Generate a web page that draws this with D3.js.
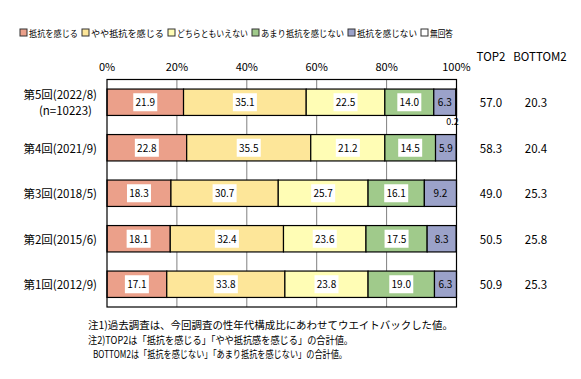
<!DOCTYPE html>
<html><head><meta charset="utf-8">
<script src="https://cdn.jsdelivr.net/npm/d3@7"></script>
<style>
body{margin:0;background:#fff;}
text{font-family:"Noto Sans CJK JP","Noto Sans",sans-serif;}
</style></head>
<body><svg id="c" width="581" height="379"></svg>
<script>
const categories = ["第5回(2022/8)","第4回(2021/9)","第3回(2018/5)","第2回(2015/6)","第1回(2012/9)"];
const subLabels = ["(n=10223)","","","",""];
const seriesNames = ["抵抗を感じる","やや抵抗を感じる","どちらともいえない","あまり抵抗を感じない","抵抗を感じない","無回答"];
const s1 = [21.9,22.8,18.3,18.1,17.1];
const s2 = [35.1,35.5,30.7,32.4,33.8];
const s3 = [22.5,21.2,25.7,23.6,23.8];
const s4 = [14.0,14.5,16.1,17.5,19.0];
const s5 = [6.3,5.9,9.2,8.3,6.3];
const s6 = [0.2,0,0,0,0];
const top2 = ["57.0","58.3","49.0","50.5","50.9"];
const bottom2 = ["20.3","20.4","25.3","25.8","25.3"];
const ticks = [0,20,40,60,80,100];
const notes = ["注1)過去調査は、今回調査の性年代構成比にあわせてウエイトバックした値。",
               "注2)TOP2は「抵抗を感じる」「やや抵抗感を感じる」の合計値。",
               "BOTTOM2は「抵抗を感じない」「あまり抵抗を感じない」の合計値。"];
const colors = ["#EBA08A","#FDE699","#FFFDB5","#A0CA8B","#9BA2C9","#FFFFFF"];

const series = [s1,s2,s3,s4,s5,s6];
const svg = d3.select("#c");
const x = d3.scaleLinear().domain([0,100]).range([107,456.5]);
const y = d3.scaleBand().domain(categories).range([79.5,307]).paddingInner(0.42).paddingOuter(0.21);

// gridlines
svg.append("g").selectAll("line").data(ticks.filter(t=>t>0&&t<100)).join("line")
  .attr("x1",d=>x(d)).attr("x2",d=>x(d)).attr("y1",79.5).attr("y2",307)
  .attr("stroke","#808080").attr("stroke-width",1);

// tick labels
svg.append("g").selectAll("text").data(ticks).join("text")
  .attr("x",d=>x(d)).attr("y",71).attr("text-anchor","middle")
  .attr("font-size",11).text(d=>d+"%");

// bars
categories.forEach((c,i)=>{
  let cum=0;
  series.forEach((s,k)=>{
    const v=s[i];
    const x0=x(cum), x1=x(cum+v);
    cum+=v;
    if(v<=0) return;
    svg.append("rect").attr("x",x0).attr("y",y(c)).attr("width",x1-x0).attr("height",y.bandwidth())
      .attr("fill",colors[k]).attr("stroke","#000").attr("stroke-width",1.2);
    const cx=(x0+x1)/2, cy=y(c)+y.bandwidth()/2;
    if(k<5){
      if(v>=10){
        svg.append("rect").attr("x",cx-12).attr("y",cy-9).attr("width",24).attr("height",18).attr("fill","#fff");
      }
      svg.append("text").attr("x",cx).attr("y",cy+4).attr("text-anchor","middle")
        .attr("font-size",10).text(v.toFixed(1));
    } else {
      svg.append("text").attr("x",x1-4).attr("y",y(c)+y.bandwidth()+9.5).attr("text-anchor","middle")
        .attr("font-size",9).text(v.toFixed(1));
    }
  });
  // category labels
  const cy=y(c)+y.bandwidth()/2;
  if(subLabels[i]){
    svg.append("text").attr("x",97).attr("y",cy-3).attr("text-anchor","end").attr("font-size",11.5).text(c);
    svg.append("text").attr("x",92).attr("y",cy+13).attr("text-anchor","end").attr("font-size",11.5).text(subLabels[i]);
  } else {
    svg.append("text").attr("x",97).attr("y",cy+5).attr("text-anchor","end").attr("font-size",11.5).text(c);
  }
  svg.append("text").attr("x",491).attr("y",cy+5).attr("text-anchor","middle").attr("font-size",11.5).text(top2[i]);
  svg.append("text").attr("x",536).attr("y",cy+5).attr("text-anchor","middle").attr("font-size",11.5).text(bottom2[i]);
});

// frame
svg.append("rect").attr("x",107).attr("y",79.5).attr("width",x(100)-107).attr("height",307-79.5)
  .attr("fill","none").attr("stroke","#000").attr("stroke-width",1.2);

// headers
svg.append("text").attr("x",491).attr("y",61).attr("text-anchor","middle").attr("font-size",11.5).text("TOP2");
svg.append("text").attr("x",540).attr("y",61).attr("text-anchor","middle").attr("font-size",11.5).text("BOTTOM2");

// legend
const legX=[20,82,168,252,348,421];
const legEnd=[78,164,248,344,417,453];
seriesNames.forEach((n,k)=>{
  const g=svg.append("g");
  g.append("rect").attr("x",legX[k]).attr("y",29).attr("width",7).attr("height",7)
    .attr("fill",colors[k]).attr("stroke","#333").attr("stroke-width",1);
  g.append("text").attr("x",legX[k]+9).attr("y",36.5).attr("font-size",9)
    .attr("textLength",legEnd[k]-legX[k]-9).attr("lengthAdjust","spacingAndGlyphs").text(n);
});

// notes
const noteX=[88,88,93];
const noteEnd=[453,353,347];
notes.forEach((t,i)=>{
  svg.append("text").attr("x",noteX[i]).attr("y",329+i*14.5).attr("font-size",10.5)
    .attr("textLength",noteEnd[i]-noteX[i]).attr("lengthAdjust","spacingAndGlyphs").text(t);
});
</script></body></html>
